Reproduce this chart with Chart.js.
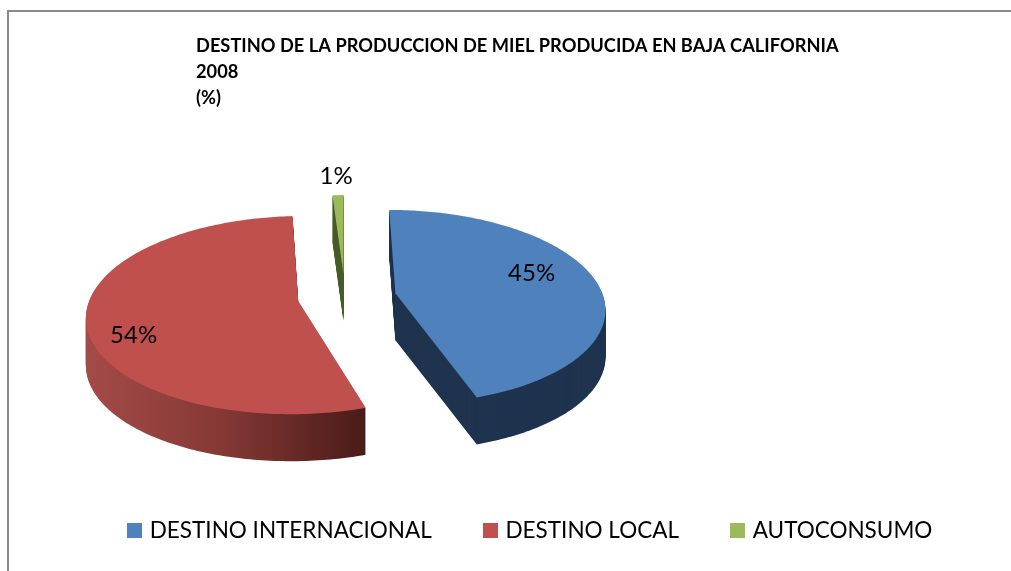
<!DOCTYPE html>
<html>
<head>
<meta charset="utf-8">
<title>Destino de la produccion de miel</title>
<script src="https://cdn.jsdelivr.net/npm/chart.js@4"></script>
<style>
  html, body { margin: 0; padding: 0; background: #fff; overflow: hidden; }
  #frame {
    position: absolute; left: 7px; top: 10px; right: 0; bottom: 0;
    border-top: 2px solid #8a8a8a; border-left: 2px solid #8a8a8a;
  }
  #wrap { position: absolute; left: 0; top: 0; width: 1011px; height: 571px; }
</style>
</head>
<body>
<div id="frame"></div>
<div id="wrap"><canvas id="pieChart" width="1011" height="571"></canvas></div>
<script>
const titleLines = [
  "DESTINO DE LA PRODUCCION DE MIEL PRODUCIDA EN BAJA CALIFORNIA",
  "2008",
  "(%)"
];
const categories = ["DESTINO INTERNACIONAL", "DESTINO LOCAL", "AUTOCONSUMO"];
const values = [45, 54, 1];
const topColors = ["#4f81bd", "#c0504d", "#9bbb59"];

// how the flat pie gets tilted on the page
const centerX = 345;
const centerY = 297;
const spreadX = 208;
const spreadY = 96;
const tilt = 0.14;
const depth = 47;

// where the % labels sit: fraction of radius, then a nudge in px
const labelRadius = [0.68, 0.78, 1.2];
const labelNudge = [[0, -10], [0, 20], [-1, -5]];

function tiltPoint(u, t) {
  const d = 1 - tilt * t;
  return { x: centerX + spreadX * u / d, y: centerY + spreadY * t / d };
}

function slicePoints(arc) {
  const mid = (arc.startAngle + arc.endAngle) / 2;
  const off = (arc.options.offset || 0) / arc.outerRadius;
  const ox = off * Math.cos(mid);
  const oy = off * Math.sin(mid);
  const pts = [tiltPoint(ox, oy)];
  const steps = Math.max(4, Math.ceil((arc.endAngle - arc.startAngle) * 60));
  for (let i = 0; i <= steps; i++) {
    const a = arc.startAngle + (arc.endAngle - arc.startAngle) * i / steps;
    pts.push(tiltPoint(ox + Math.cos(a), oy + Math.sin(a)));
  }
  return pts;
}

function fillPoly(ctx, pts, dy, fill) {
  ctx.beginPath();
  pts.forEach((p, i) => {
    if (i === 0) ctx.moveTo(p.x, p.y + dy);
    else ctx.lineTo(p.x, p.y + dy);
  });
  ctx.closePath();
  ctx.fillStyle = fill;
  ctx.fill();
}

function sideFill(ctx, index) {
  if (index === 1) {
    const g = ctx.createLinearGradient(85, 0, 365, 0);
    g.addColorStop(0, "#a44b48");
    g.addColorStop(0.5, "#843834");
    g.addColorStop(1, "#4a1b19");
    return g;
  }
  return index === 0 ? "#1f334f" : "#4a5c2a";
}

// legend square, drawn wider than its slot so the text sits closer to it
function swatch(color) {
  const c = document.createElement("canvas");
  c.width = 15;
  c.height = 15;
  const g = c.getContext("2d");
  g.fillStyle = color;
  g.fillRect(0, 0, 15, 15);
  return c;
}

const tiltedPie = {
  id: "tiltedPie",
  beforeDatasetDraw(chart) {
    const ctx = chart.ctx;
    const arcs = chart.getDatasetMeta(0).data;
    ctx.save();
    [2, 1, 0].forEach((i) => {
      const pts = slicePoints(arcs[i]);
      const side = sideFill(ctx, i);
      for (let d = depth; d > 0; d--) {
        fillPoly(ctx, pts, d, side);
      }
      fillPoly(ctx, pts, 0, arcs[i].options.backgroundColor);
    });
    ctx.restore();
    return false;
  },
  afterDraw(chart) {
    const ctx = chart.ctx;
    const arcs = chart.getDatasetMeta(0).data;
    ctx.save();
    ctx.fillStyle = "#000";
    ctx.textBaseline = "middle";
    ctx.textAlign = "center";
    ctx.font = "24px Lato";
    arcs.forEach((arc, i) => {
      const mid = (arc.startAngle + arc.endAngle) / 2;
      const off = arc.options.offset / arc.outerRadius;
      const p = tiltPoint((off + labelRadius[i]) * Math.cos(mid), (off + labelRadius[i]) * Math.sin(mid));
      ctx.fillText(values[i] + "%", p.x + labelNudge[i][0], p.y + labelNudge[i][1]);
    });
    ctx.textAlign = "left";
    ctx.font = "bold 18.25px Lato";
    titleLines.forEach((line, i) => {
      ctx.fillText(line, 196, 46 + i * 26);
    });
    ctx.restore();
  }
};

new Chart(document.getElementById("pieChart"), {
  type: "pie",
  data: {
    labels: categories,
    datasets: [{
      data: values,
      backgroundColor: topColors,
      borderWidth: 0,
      offset: [51, 47, 51]
    }]
  },
  options: {
    responsive: false,
    animation: false,
    layout: { padding: { left: 76, bottom: 19 } },
    plugins: {
      legend: {
        position: "bottom",
        align: "start",
        labels: {
          color: "#000",
          boxHeight: 15,
          usePointStyle: true,
          pointStyleWidth: 7.5,
          padding: 55,
          font: { family: "Lato", size: 22.5 },
          generateLabels(chart) {
            const items = Chart.overrides.pie.plugins.legend.labels.generateLabels(chart);
            items.forEach((item, i) => {
              item.pointStyle = swatch(topColors[i]);
            });
            return items;
          }
        }
      },
      tooltip: { enabled: false }
    }
  },
  plugins: [tiltedPie]
});
</script>
</body>
</html>
